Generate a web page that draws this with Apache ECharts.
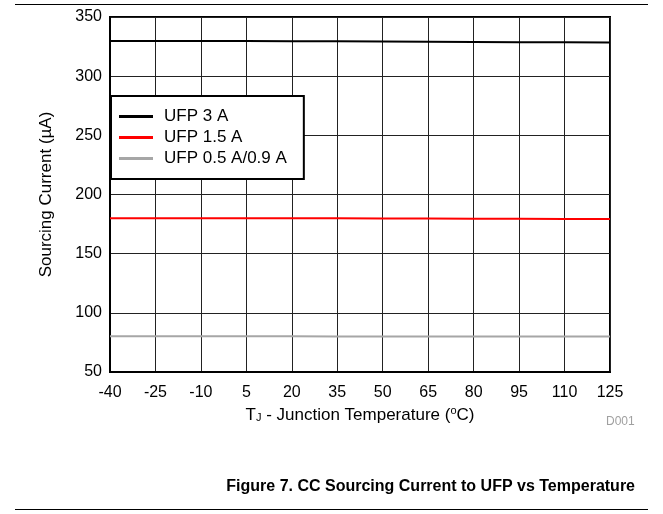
<!DOCTYPE html>
<html>
<head>
<meta charset="utf-8">
<script src="https://cdn.jsdelivr.net/npm/echarts@6/dist/echarts.min.js"></script>
<style>
  html, body { margin: 0; padding: 0; background: #fff; }
  #chart { width: 663px; height: 514px; }
</style>
</head>
<body>
<div id="chart"></div>
<script>
// 数据
const temps = ['-40', '-25', '-10', '5', '20', '35', '50', '65', '80', '95', '110', '125'];
const ufp3A = [329.8, 329.8, 329.7, 329.7, 329.6, 329.5, 329.3, 329.1, 328.9, 328.7, 328.6, 328.5];
const ufp15A = [180.0, 180.0, 180.0, 180.0, 179.9, 179.9, 179.8, 179.7, 179.6, 179.5, 179.4, 179.3];
const ufp05A = [80.2, 80.2, 80.2, 80.2, 80.2, 80.1, 80.1, 80.1, 80.1, 80.0, 80.0, 80.0];
const seriesNames = ['UFP 3 A', 'UFP 1.5 A', 'UFP 0.5 A/0.9 A'];
const seriesColors = ['#000000', '#ff0000', '#a6a6a6'];

const font = 'Liberation Sans, Arial, sans-serif';
const chart = echarts.init(document.getElementById('chart'));

const makeSeries = (name, data, color) => ({
  type: 'line',
  name: name,
  data: data,
  symbol: 'none',
  lineStyle: {color: color, width: 2},
  itemStyle: {color: color},
  z: 3
});

chart.setOption({
  animation: false,
  grid: {left: 110, right: 53, top: 17, bottom: 142, show: true, borderColor: '#000', borderWidth: 2},
  legend: {
    orient: 'vertical',
    left: 111,
    top: 96,
    width: 193,
    backgroundColor: '#fff',
    borderColor: '#000',
    borderWidth: 2,
    borderRadius: 0,
    padding: [12, 17, 12, 8],
    icon: 'rect',
    itemWidth: 34,
    itemHeight: 3,
    itemGap: 4,
    textStyle: {fontFamily: font, fontSize: 17, color: '#000', padding: [0, 0, 0, 6]},
    data: seriesNames
  },
  xAxis: {
    type: 'category',
    data: temps,
    boundaryGap: false,
    axisTick: {show: false},
    axisLine: {show: true, lineStyle: {color: '#000', width: 2}},
    axisLabel: {fontFamily: font, fontSize: 16, color: '#000', margin: 13},
    splitLine: {show: true, lineStyle: {color: '#222', width: 1}},
    name: 'T{sub|J} - Junction Temperature ({sup|o}C)',
    nameLocation: 'middle',
    nameGap: 32,
    nameTextStyle: {
      fontFamily: font, fontSize: 17, color: '#000',
      rich: {
        sub: {fontFamily: font, fontSize: 11, color: '#000', verticalAlign: 'bottom', padding: [7, 0, 0, 0]},
        sup: {fontFamily: font, fontSize: 11, color: '#000', verticalAlign: 'top', padding: [0, 0, 7, 0]}
      }
    }
  },
  yAxis: {
    type: 'value',
    min: 50,
    max: 350,
    interval: 50,
    axisTick: {show: false},
    axisLine: {show: true, lineStyle: {color: '#000', width: 2}},
    axisLabel: {fontFamily: font, fontSize: 16, color: '#000', margin: 8},
    splitLine: {show: true, lineStyle: {color: '#222', width: 1}},
    name: 'Sourcing Current (µA)',
    nameLocation: 'middle',
    nameGap: 55,
    nameTextStyle: {fontFamily: font, fontSize: 17, color: '#000'}
  },
  series: [
    makeSeries(seriesNames[0], ufp3A, seriesColors[0]),
    makeSeries(seriesNames[1], ufp15A, seriesColors[1]),
    makeSeries(seriesNames[2], ufp05A, seriesColors[2])
  ],
  graphic: [
    {type: 'rect', shape: {x: 15, y: 4, width: 633, height: 1}, style: {fill: '#000'}},
    {type: 'rect', shape: {x: 15, y: 509, width: 633, height: 1}, style: {fill: '#000'}},
    {type: 'text', left: 606, top: 416, style: {text: 'D001', fill: '#a0a0a0', font: '12px ' + font}},
    {
      type: 'text', right: 28, top: 479,
      style: {text: 'Figure 7. CC Sourcing Current to UFP vs Temperature', fill: '#000', font: 'bold 16px ' + font}
    }
  ]
});
</script>
</body>
</html>
